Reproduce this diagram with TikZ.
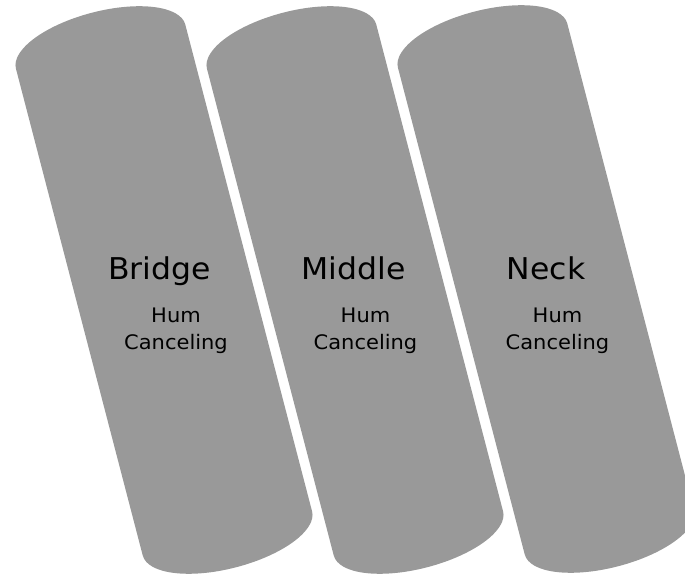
\documentclass[tikz,border=0pt]{standalone}
\usepackage{fontspec}
\setmainfont{DejaVu Sans}[FakeStretch=1.05]
\definecolor{pickup}{HTML}{999999}
\tikzset{
  title/.style={anchor=base, inner sep=0pt, font=\fontsize{30}{35}\selectfont},
  sub/.style={anchor=base, inner sep=0pt, font=\fontsize{20}{24}\selectfont},
}
\newcommand{\pickupshape}[2]{%
  \begin{scope}[shift={(#1,#2)}, rotate=14.6]
    \fill[pickup] (-87.5,251.5) -- (-87.5,-251.5)
      arc[start angle=180, end angle=360, x radius=87.5, y radius=35]
      -- (87.5,251.5)
      arc[start angle=0, end angle=180, x radius=87.5, y radius=35] -- cycle;
  \end{scope}}
\begin{document}
\begin{tikzpicture}[x=1pt,y=1pt]
\useasboundingbox (0,0) rectangle (685,573);
\clip (0,0) rectangle (685,573);
\pickupshape{164}{283}
\pickupshape{355}{283}
\pickupshape{546}{284}
\node[title] (t1) at (159.5,293) {Bridge};
\node[title] (t2) at (353.5,293) {Middle};
\node[title] (t3) at (546,293) {Neck};
\node[sub] (h1) at (176,250) {Hum};
\node[sub] (c1) at (176,223) {Canceling};
\node[sub] (h2) at (365.5,250) {Hum};
\node[sub] (c2) at (365.5,223) {Canceling};
\node[sub] (h3) at (557.5,250) {Hum};
\node[sub] (c3) at (557.5,223) {Canceling};
\end{tikzpicture}
\end{document}
